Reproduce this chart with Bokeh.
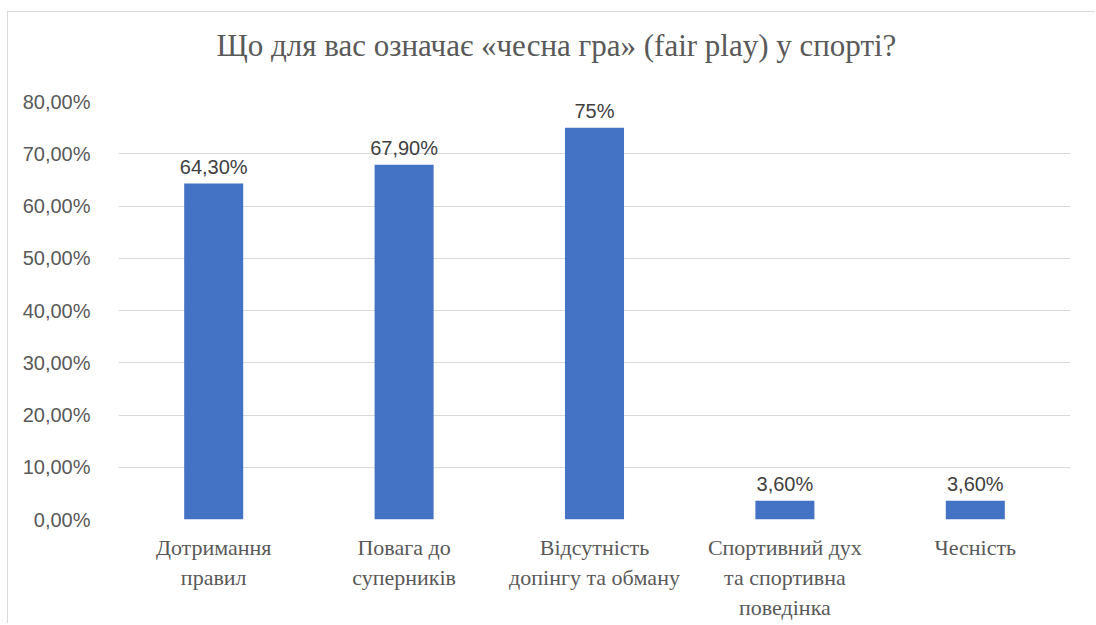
import numpy as np
from bokeh.plotting import figure
from bokeh.models import FixedTicker, ColumnDataSource, LinearAxis, Title
from bokeh.core.properties import value
from bokeh.embed import file_html
from bokeh.resources import INLINE

categories = ["Дотримання правил", "Повага до суперників", "Відсутність допінгу та обману",
              "Спортивний дух та спортивна поведінка", "Чесність"]
category_lines = [["Дотримання", "правил"], ["Повага до", "суперників"], ["Відсутність", "допінгу та обману"],
                  ["Спортивний дух", "та спортивна", "поведінка"], ["Чесність"]]
values = [64.3, 67.9, 75.0, 3.6, 3.6]
value_labels = ["64,30%", "67,90%", "75%", "3,60%", "3,60%"]
y_ticks = [0, 10, 20, 30, 40, 50, 60, 70, 80]
y_tick_labels = ["0,00%", "10,00%", "20,00%", "30,00%", "40,00%", "50,00%", "60,00%", "70,00%", "80,00%"]
title_text = "Що для вас означає «чесна гра» (fair play) у спорті?"

GREY = "#595959"
GRID = "#d9d9d9"

# slot centres of the categories on a numeric x range (one unit per category)
xpos = np.arange(len(categories)) + 0.5

p = figure(x_range=(0, len(categories)), y_range=(0, 80), width=1088, height=612,
           output_backend="svg", toolbar_location=None,
           min_border_left=110, min_border_right=26, min_border_top=89, min_border_bottom=105)
p.styles = {"border-top": "1px solid #d9d9d9", "border-left": "1px solid #d9d9d9"}
p.margin = (11, 0, 0, 7)
p.outline_line_color = None
p.background_fill_color = "white"
p.border_fill_color = "white"

src = ColumnDataSource(dict(x=xpos, cat=categories, top=values, lab=value_labels))
p.vbar(x="x", top="top", width=0.31, source=src, fill_color="#4472C4", line_color=None)
p.text(x="x", y="top", text="lab", source=src, y_offset=-17, text_align="center",
       text_baseline="alphabetic", text_font=value("Liberation Sans"), text_font_size="20px",
       text_color="#404040")

p.xgrid.grid_line_color = None
p.ygrid.grid_line_color = GRID
p.ygrid.grid_line_width = 1
p.yaxis.ticker = FixedTicker(ticks=y_ticks)
p.yaxis.major_label_overrides = {t: l for t, l in zip(y_ticks, y_tick_labels)}
p.yaxis.axis_line_color = None
p.yaxis.major_tick_line_color = None
p.yaxis.minor_tick_line_color = None
p.yaxis.major_label_text_font = "Liberation Sans"
p.yaxis.major_label_text_font_size = "20px"
p.yaxis.major_label_text_color = GREY
p.yaxis.major_label_standoff = 22


def style_line_axis(ax, k, standoff):
    ticks, labels = [], {}
    for x, lines in zip(xpos, category_lines):
        if k < len(lines):
            ticks.append(float(x))
            labels[float(x)] = lines[k]
    ax.ticker = FixedTicker(ticks=ticks)
    ax.major_label_overrides = labels
    ax.axis_line_color = None
    ax.major_tick_line_color = None
    ax.minor_tick_line_color = None
    ax.major_tick_out = 0
    ax.major_tick_in = 0
    ax.minor_tick_out = 0
    ax.major_label_text_font = "Liberation Serif"
    ax.major_label_text_font_size = "22px"
    ax.major_label_text_color = GREY
    ax.major_label_standoff = standoff


# category labels: one axis per text line
style_line_axis(p.xaxis[0], 0, 15)
for k in (1, 2):
    ax = LinearAxis()
    style_line_axis(ax, k, 2)
    p.add_layout(ax, "below")

# title; the trailing empty line keeps a gap between the title and the plot area
p.add_layout(Title(text=title_text + "\n", align="left", offset=98, standoff=0, vertical_align="bottom",
                   text_font="Liberation Serif", text_font_size="31px", text_font_style="normal",
                   text_line_height=1.1, text_color=GREY), "above")

open("out.html", "w").write(file_html(p, INLINE))
